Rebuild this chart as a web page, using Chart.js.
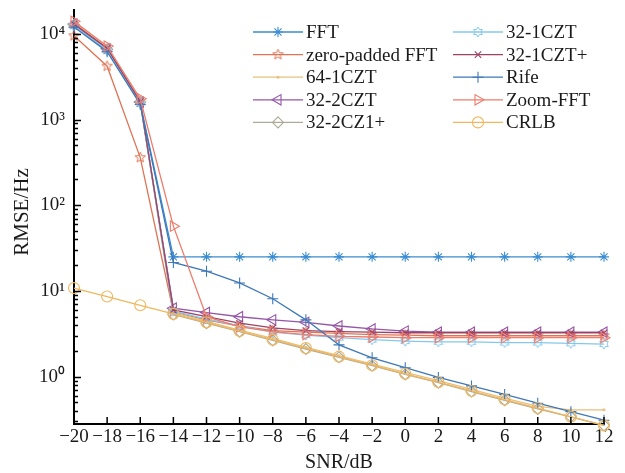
<!DOCTYPE html>
<html>
<head>
<meta charset="utf-8">
<script src="https://cdn.jsdelivr.net/npm/chart.js@4/dist/chart.umd.min.js"></script>
<style>
  html, body { margin: 0; padding: 0; background: #fff; }
  #wrap { width: 625px; height: 473px; position: relative; }
</style>
</head>
<body>
<div id="wrap"><canvas id="rmse-chart"></canvas></div>
<script>
// SNR values (x axis)
var snr = [-20, -18, -16, -14, -12, -10, -8, -6, -4, -2, 0, 2, 4, 6, 8, 10, 12];

// RMSE per method
var fft        = [12500, 6400, 1550, 25, 25, 25, 25, 25, 25, 25, 25, 25, 25, 25, 25, 25, 25];
var zeroPadFft = [9500, 4200, 360, 5.7, 4.6, 3.9, 3.45, 3.3, 3.2, 3.1, 3.05, 3.0, 3.0, 3.0, 3.0, 3.0, 3.0];
var czt64_1    = [13500, 6900, 1650, 5.6, 4.4, 3.5, 2.8, 2.2, 1.76, 1.4, 1.12, 0.9, 0.71, 0.56, 0.45, 0.41, 0.41];
var czt32_2    = [13000, 6700, 1600, 6.3, 5.6, 5.0, 4.6, 4.3, 3.9, 3.6, 3.4, 3.3, 3.3, 3.3, 3.3, 3.3, 3.3];
var czt32_2p   = [12800, 6600, 1600, 5.3, 4.2, 3.35, 2.65, 2.1, 1.68, 1.34, 1.06, 0.85, 0.67, 0.53, 0.42, 0.34, 0.27];
var czt32_1    = [12500, 6500, 1580, 5.8, 4.7, 3.9, 3.3, 3.05, 2.85, 2.7, 2.6, 2.55, 2.55, 2.5, 2.5, 2.45, 2.4];
var czt32_1p   = [13000, 6800, 1620, 6.0, 5.0, 4.2, 3.7, 3.45, 3.35, 3.3, 3.25, 3.25, 3.25, 3.25, 3.25, 3.25, 3.25];
var rife       = [12000, 6200, 1500, 21.5, 17, 12.4, 8.1, 4.6, 2.35, 1.66, 1.27, 0.98, 0.78, 0.62, 0.49, 0.39, 0.31];
var zoomFft    = [14000, 7200, 1750, 57, 5.0, 3.8, 3.35, 3.1, 2.95, 2.9, 2.85, 2.85, 2.85, 2.85, 2.85, 2.85, 2.85];
var crlb       = [10.8, 8.6, 6.8, 5.4, 4.3, 3.4, 2.7, 2.15, 1.71, 1.36, 1.08, 0.86, 0.68, 0.54, 0.43, 0.34, 0.27];

var seriesNames = ['FFT', 'zero-padded FFT', '64-1CZT', '32-2CZT', '32-2CZ1+',
                   '32-1CZT', '32-1CZT+', 'Rife', 'Zoom-FFT', 'CRLB'];
var seriesData = [fft, zeroPadFft, czt64_1, czt32_2, czt32_2p, czt32_1, czt32_1p, rife, zoomFft, crlb];

// tick labels
var xTicks = [-20, -18, -16, -14, -12, -10, -8, -6, -4, -2, 0, 2, 4, 6, 8, 10, 12];
var yTicks = [1, 10, 100, 1000, 10000];
var yTickLabels = ['10\u2070', '10\u00b9', '10\u00b2', '10\u00b3', '10\u2074'];

var FONT = "'Liberation Serif', 'Times New Roman', serif";

// outline star marker (matlab 'p' / 'h')
function starMarker(points, color, r) {
    var c = document.createElement('canvas');
    var s = Math.ceil(r * 2 + 4);
    c.width = s; c.height = s;
    var g = c.getContext('2d');
    g.strokeStyle = color;
    g.lineWidth = 1;
    g.beginPath();
    var inner = points === 5 ? 0.42 : 0.58;
    for (var k = 0; k < points * 2; k++) {
        var rr = k % 2 === 0 ? r : r * inner;
        var a = -Math.PI / 2 + k * Math.PI / points;
        var px = s / 2 + rr * Math.cos(a), py = s / 2 + rr * Math.sin(a);
        if (k === 0) g.moveTo(px, py); else g.lineTo(px, py);
    }
    g.closePath();
    g.stroke();
    return c;
}

var colors = ['#3a8cd2', '#de7454', '#e9c07a', '#9456a9', '#aeaa98',
              '#84c8ee', '#9e4263', '#3e78b8', '#ee7c6c', '#f0b75e'];
var styles = [
    {pointStyle: 'star', radius: 5, rotation: 0},
    {pointStyle: starMarker(5, colors[1], 5.5), radius: 5, rotation: 0},
    {pointStyle: 'circle', radius: 1, rotation: 0},
    {pointStyle: 'triangle', radius: 6, rotation: -90},
    {pointStyle: 'rectRot', radius: 5.5, rotation: 0},
    {pointStyle: starMarker(6, colors[5], 5), radius: 5, rotation: 0},
    {pointStyle: 'crossRot', radius: 4.5, rotation: 0},
    {pointStyle: 'cross', radius: 5.5, rotation: 0},
    {pointStyle: 'triangle', radius: 6, rotation: 90},
    {pointStyle: 'circle', radius: 5.5, rotation: 0}
];

var datasets = [];
for (var i = 0; i < seriesNames.length; i++) {
    var pts = [];
    for (var j = 0; j < snr.length; j++) {
        pts.push({x: snr[j], y: seriesData[i][j]});
    }
    datasets.push({
        label: seriesNames[i],
        data: pts,
        borderColor: colors[i],
        backgroundColor: 'rgba(0,0,0,0)',
        borderWidth: 1.3,
        pointStyle: styles[i].pointStyle,
        pointRadius: styles[i].radius,
        pointRotation: styles[i].rotation,
        pointBorderWidth: 1.1,
        pointBorderColor: colors[i],
        pointBackgroundColor: 'rgba(0,0,0,0)',
        clip: false,
        order: seriesNames.length - i
    });
}

// inward tick marks + axis titles
var axisDecor = {
    id: 'axisDecor',
    afterDraw: function(chart) {
        var ctx = chart.ctx, area = chart.chartArea;
        var x = chart.scales.x, y = chart.scales.y;
        ctx.save();
        ctx.strokeStyle = '#000';
        ctx.lineWidth = 1.5;
        ctx.beginPath();
        for (var i = 0; i < xTicks.length; i++) {
            var px = x.getPixelForValue(xTicks[i]);
            ctx.moveTo(px, area.bottom);
            ctx.lineTo(px, area.bottom - 7);
        }
        for (var e = -1; e <= 4; e++) {
            for (var m = 1; m <= 9; m++) {
                var v = m * Math.pow(10, e);
                if (v < y.min || v > y.max) continue;
                var py = Math.round(y.getPixelForValue(v)) + 0.5;
                ctx.moveTo(area.left, py);
                ctx.lineTo(area.left + (m === 1 ? 7 : 4), py);
            }
        }
        ctx.stroke();

        ctx.fillStyle = '#1a1a1a';
        ctx.font = '20px ' + FONT;
        ctx.textAlign = 'center';
        ctx.textBaseline = 'middle';
        ctx.fillText('SNR/dB', (area.left + area.right) / 2, 463);
        ctx.font = '21px ' + FONT;
        ctx.translate(22, 212);
        ctx.rotate(-Math.PI / 2);
        ctx.fillText('RMSE/Hz', 0, 0);
        ctx.restore();
    }
};

// two-column legend in the top right
var legendBox = {
    id: 'legendBox',
    afterDraw: function(chart) {
        var ctx = chart.ctx;
        var cols = [253, 453];
        var lineLen = 50;
        ctx.save();
        ctx.font = '19px ' + FONT;
        ctx.textBaseline = 'middle';
        ctx.textAlign = 'left';
        for (var i = 0; i < seriesNames.length; i++) {
            var x0 = cols[Math.floor(i / 5)];
            var yy = 32 + (i % 5) * 22.6;
            ctx.strokeStyle = colors[i];
            ctx.lineWidth = 1.3;
            ctx.beginPath();
            ctx.moveTo(x0, yy);
            ctx.lineTo(x0 + lineLen, yy);
            ctx.stroke();
            ctx.lineWidth = 1.1;
            ctx.fillStyle = 'rgba(0,0,0,0)';
            Chart.helpers.drawPoint(ctx, {
                pointStyle: styles[i].pointStyle,
                radius: styles[i].radius,
                rotation: styles[i].rotation,
                borderWidth: 1.1
            }, x0 + lineLen / 2, yy);
            ctx.fillStyle = '#1a1a1a';
            ctx.fillText(seriesNames[i], x0 + lineLen + 3, yy + 1);
        }
        ctx.restore();
    }
};

new Chart(document.getElementById('rmse-chart'), {
    type: 'line',
    data: { datasets: datasets },
    options: {
        responsive: true,
        maintainAspectRatio: false,
        animation: false,
        layout: { padding: { top: 10, right: 21, left: 0, bottom: 0 } },
        plugins: {
            legend: { display: false },
            tooltip: { enabled: false }
        },
        scales: {
            x: {
                type: 'linear',
                min: -20,
                max: 12,
                afterFit: function(scale) { scale.height = 49; },
                afterBuildTicks: function(scale) {
                    scale.ticks = xTicks.map(function(v) { return {value: v}; });
                },
                ticks: {
                    color: '#1a1a1a',
                    font: { family: FONT, size: 19 },
                    padding: 2,
                    maxRotation: 0,
                    autoSkip: false,
                    callback: function(v) { return v < 0 ? '\u2212' + Math.abs(v) : String(v); }
                },
                grid: { drawOnChartArea: false, drawTicks: false, color: 'rgba(0,0,0,0)' },
                border: { color: '#000', width: 2 }
            },
            y: {
                type: 'logarithmic',
                min: 0.28,
                max: 19000,
                afterFit: function(scale) {
                    scale.width = 74;
                    scale.paddingTop = 0;
                    scale.paddingBottom = 0;
                },
                afterBuildTicks: function(scale) {
                    scale.ticks = yTicks.map(function(v) { return {value: v}; });
                },
                ticks: {
                    color: '#1a1a1a',
                    font: { family: FONT, size: 19 },
                    padding: 9,
                    autoSkip: false,
                    callback: function(v) {
                        var k = yTicks.indexOf(v);
                        return k >= 0 ? yTickLabels[k] : '';
                    }
                },
                grid: { drawOnChartArea: false, drawTicks: false, color: 'rgba(0,0,0,0)' },
                border: { color: '#000', width: 2 }
            }
        }
    },
    plugins: [axisDecor, legendBox]
});
</script>
</body>
</html>
